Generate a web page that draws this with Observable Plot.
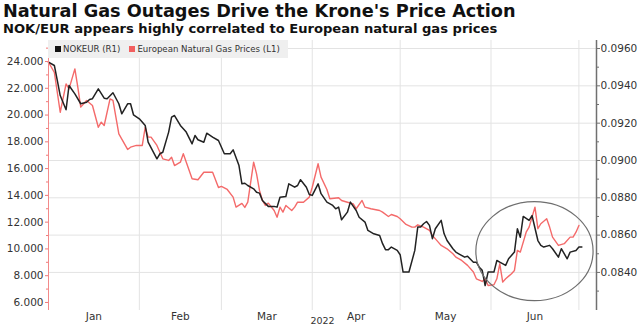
<!DOCTYPE html>
<html><head><meta charset="utf-8">
<script src="https://cdn.jsdelivr.net/npm/d3@7"></script>
<script src="https://cdn.jsdelivr.net/npm/@observablehq/plot@0.6"></script>
<style>
body{margin:0;background:#fff;font-family:"DejaVu Sans",sans-serif;}
#wrap{position:relative;width:640px;height:327px;overflow:hidden;background:#fff}
#title{position:absolute;left:3px;top:-0.5px;font-weight:bold;font-size:17.7px;color:#111;white-space:nowrap;line-height:22px}
#subtitle{position:absolute;left:3px;top:20.5px;font-weight:bold;font-size:13.1px;color:#111;white-space:nowrap;line-height:16px}
#chart{position:absolute;left:0;top:38px;}
#legend{position:absolute;left:48px;top:40px;height:18px;width:240px;background:#efefef;font-size:8.6px;color:#333;display:flex;align-items:center;padding-left:7px;box-sizing:border-box;white-space:nowrap}
#legend .sw{display:inline-block;width:6px;height:6px;margin-right:2px}
</style>
</head><body>
<div id="wrap">
  <div id="title">Natural Gas Outages Drive the Krone's Price Action</div>
  <div id="subtitle">NOK/EUR appears highly correlated to European natural gas prices</div>
  <div id="chart"></div>
  <div id="legend"><span class="sw" style="background:#111"></span><span>NOKEUR (R1)</span><span style="display:inline-block;width:9px"></span><span class="sw" style="background:#f25f5f"></span><span>European Natural Gas Prices (L1)</span></div>
</div>
<script>
// NOKEUR (right axis)
const nokDates = ["01-01","01-03","01-04","01-05","01-07","01-08","01-10","01-12","01-14","01-15","01-16","01-18","01-20","01-21","01-23","01-25","01-26","01-28","01-29","01-30",
"02-01","02-03","02-04","02-07","02-08","02-09","02-11","02-12","02-13","02-15","02-17","02-19","02-20","02-21","02-23","02-24","02-26","02-28",
"03-02","03-04","03-05","03-07","03-08","03-09","03-10","03-12","03-13","03-14","03-15","03-17","03-19","03-20","03-21","03-23","03-24","03-26","03-27","03-28","03-30","03-31",
"04-01","04-03","04-04","04-06","04-08","04-09","04-10","04-11","04-13","04-14","04-16","04-17","04-19","04-20","04-22","04-24","04-25","04-26","04-27","04-28","04-30",
"05-01","05-02","05-04","05-06","05-07","05-08","05-09","05-10","05-11","05-12","05-13","05-15","05-16","05-17","05-19","05-20","05-21","05-23","05-24","05-26","05-27","05-28","05-29","05-30","05-31",
"06-02","06-03","06-04","06-06","06-07","06-09","06-10","06-11","06-12","06-14","06-15","06-17","06-18","06-19","06-21","06-22","06-24","06-25","06-27","06-28","06-30","07-01","07-02"];
const nokValues = [0.09527,0.09509,0.09429,0.09348,0.09272,0.09402,0.09357,0.09304,0.09312,0.09327,0.09331,0.09384,0.09334,0.09331,0.09363,0.09304,0.09250,0.09304,0.09304,0.09245,
0.09223,0.09188,0.09098,0.09009,0.09036,0.09044,0.09152,0.09232,0.09241,0.09188,0.09152,0.09089,0.09134,0.09111,0.09098,0.09146,0.09125,0.09107,
0.09036,0.09036,0.09057,0.08973,0.08875,0.08878,0.08866,0.08848,0.08830,0.08825,0.08786,0.08754,0.08754,0.08750,0.08803,0.08807,0.08875,0.08857,0.08866,0.08897,0.08857,0.08818,
0.08813,0.08875,0.08822,0.08777,0.08759,0.08741,0.08750,0.08682,0.08723,0.08777,0.08732,0.08696,0.08670,0.08625,0.08607,0.08598,0.08554,0.08522,0.08522,0.08536,0.08518,
0.08495,0.08402,0.08402,0.08518,0.08643,0.08643,0.08661,0.08673,0.08652,0.08581,0.08634,0.08679,0.08607,0.08571,0.08527,0.08509,0.08500,0.08482,0.08487,0.08455,0.08455,0.08428,0.08411,0.08330,0.08402,
0.08402,0.08464,0.08455,0.08438,0.08473,0.08509,0.08634,0.08589,0.08700,0.08679,0.08705,0.08571,0.08545,0.08536,0.08545,0.08527,0.08482,0.08527,0.08473,0.08509,0.08518,0.08536,0.08536];

// European natural gas prices (left axis)
const gasDates = ["01-01","01-03","01-05","01-07","01-08","01-10","01-11","01-12","01-14","01-16","01-18","01-19","01-20","01-22","01-23","01-25","01-28","01-29","01-31",
"02-02","02-03","02-04","02-05","02-07","02-09","02-11","02-12","02-13","02-15","02-16","02-19","02-21","02-23","02-26","02-28",
"03-01","03-03","03-05","03-06","03-08","03-09","03-10","03-12","03-13","03-14","03-15","03-16","03-17","03-19","03-20","03-21","03-22","03-23","03-25","03-26","03-27","03-29","03-31",
"04-01","04-03","04-04","04-06","04-07","04-10","04-11","04-13","04-15","04-16","04-18","04-19","04-21","04-24","04-25","04-27","04-28","04-30",
"05-01","05-03","05-05","05-06","05-07","05-09","05-11","05-12","05-14","05-15","05-17","05-19","05-20","05-22","05-24","05-26","05-27","05-29","05-30","05-31",
"06-02","06-03","06-04","06-05","06-06","06-08","06-09","06-10","06-11","06-13","06-14","06-16","06-17","06-18","06-20","06-21","06-22","06-24","06-26","06-28","06-29","06-30","07-01"];
const gasValues = [23.95,23.18,20.21,22.33,21.96,23.45,22.08,20.59,21.09,20.71,19.09,19.47,19.22,21.21,21.09,18.60,17.43,17.60,17.73,
17.73,19.09,18.35,18.35,17.73,16.73,16.61,16.85,16.23,16.48,17.11,15.24,15.17,15.73,15.73,14.59,
14.67,14.44,13.87,13.12,13.40,13.10,13.49,16.48,15.61,14.37,13.62,13.25,13.42,12.87,12.37,13.12,12.75,13.25,12.87,13.12,13.49,13.49,13.87,
14.61,16.36,15.36,14.44,13.75,13.82,13.62,13.49,13.37,13.00,13.62,13.12,13.00,12.87,12.75,12.42,12.57,12.42,
12.25,11.83,11.63,11.63,11.80,11.63,11.38,11.01,10.51,10.26,10.01,9.64,9.39,9.14,8.77,8.27,7.77,7.57,7.77,7.27,
7.32,7.77,8.89,7.52,7.77,8.15,8.39,9.89,9.76,11.25,11.63,13.12,11.51,11.88,12.25,11.63,10.88,10.26,10.39,10.88,10.88,11.25,11.75];

const leftTicks = [6,8,10,12,14,16,18,20,22,24];
const leftMinorTicks = [7,9,11,13,15,17,19,21,23,25];
const rightTicks = [0.084,0.086,0.088,0.090,0.092,0.094,0.096];
const rightMinorTicks = [0.083,0.085,0.087,0.089,0.091,0.093,0.095];
const monthNames = ["Jan","Feb","Mar","Apr","May","Jun"];
const monthStarts = ["01-01","02-01","03-01","04-01","05-01","06-01","07-01"];
const xDomain = ["01-01","07-07"];
const leftDomain = [5.4, 25.57];
const rightDomain = [0.08196, 0.09643];
const yearLabel = "2022";
// annotation ellipse extent (dates, NOKEUR)
const ellipseDates = ["05-27","07-06"];
const ellipseNok = [0.08246, 0.08777];

const parse = s => new Date("2022-" + s + "T00:00:00Z");
const toLeft = r => leftDomain[0] + (r - rightDomain[0]) / (rightDomain[1] - rightDomain[0]) * (leftDomain[1] - leftDomain[0]);
const toRight = l => rightDomain[0] + (l - leftDomain[0]) / (leftDomain[1] - leftDomain[0]) * (rightDomain[1] - rightDomain[0]);

const nok = nokDates.map((d, i) => ({date: parse(d), value: nokValues[i]}));
const gas = gasDates.map((d, i) => ({date: parse(d), value: gasValues[i]}));
const starts = monthStarts.map(parse);
const mids = monthNames.map((m, i) => new Date((+starts[i] + +starts[i + 1]) / 2));

const chart = Plot.plot({
  width: 640, height: 289,
  marginLeft: 48, marginRight: 44, marginTop: 2, marginBottom: 17,
  style: {fontFamily: "DejaVu Sans", fontSize: "10.5px", background: "transparent", color: "#333", overflow: "visible"},
  x: {type: "utc", domain: xDomain.map(parse), label: null},
  y: {domain: leftDomain, label: null},
  marks: [
    Plot.gridY(rightTicks.map(toLeft), {stroke: "#e3e3e3", strokeOpacity: 1}),
    Plot.gridX(starts.slice(1), {stroke: "#e3e3e3", strokeOpacity: 1}),
    Plot.line(gas, {x: "date", y: "value", stroke: "#f46a6a", strokeWidth: 1.4}),
    Plot.line(nok, {x: "date", y: d => toLeft(d.value), stroke: "#222", strokeWidth: 1.5}),
    Plot.ruleX([parse(xDomain[0])], {stroke: "#f28a8a", strokeWidth: 1}),
    Plot.axisY(leftTicks, {anchor: "left", label: null, tickSize: 3, tickPadding: 2, stroke: "#f27777", fill: "#333", tickFormat: d3.format(".3f")}),
    Plot.axisY(leftMinorTicks, {anchor: "left", label: null, tickSize: 2, stroke: "#f27777", tickFormat: () => ""}),
    Plot.ruleX([parse(xDomain[1])], {stroke: "#707070", strokeWidth: 1.5}),
    Plot.axisY(rightTicks.map(toLeft), {anchor: "right", label: null, tickSize: 3, tickPadding: 1, stroke: "#707070", fill: "#333", tickFormat: v => d3.format(".4f")(toRight(v))}),
    Plot.axisY(rightMinorTicks.map(toLeft), {anchor: "right", label: null, tickSize: 2, stroke: "#707070", tickFormat: () => ""}),
    Plot.axisX(mids, {label: null, tickSize: 0, tickPadding: 2, fill: "#333", tickFormat: d => monthNames[mids.findIndex(m => +m === +d)]}),
    Plot.text([yearLabel], {text: d => d, frameAnchor: "bottom", lineAnchor: "top", dy: 7, fill: "#333", fontSize: 9.5})
  ]
});
const sx = chart.scale("x"), sy = chart.scale("y");
const ex1 = sx.apply(parse(ellipseDates[0])), ex2 = sx.apply(parse(ellipseDates[1]));
const ey1 = sy.apply(toLeft(ellipseNok[0])), ey2 = sy.apply(toLeft(ellipseNok[1]));
d3.select(chart).append("ellipse")
  .attr("cx", (ex1 + ex2) / 2).attr("cy", (ey1 + ey2) / 2)
  .attr("rx", Math.abs(ex2 - ex1) / 2).attr("ry", Math.abs(ey2 - ey1) / 2)
  .attr("fill", "none").attr("stroke", "#6e6e6e").attr("stroke-width", 1.2);
document.getElementById("chart").appendChild(chart);
</script>
</body></html>
